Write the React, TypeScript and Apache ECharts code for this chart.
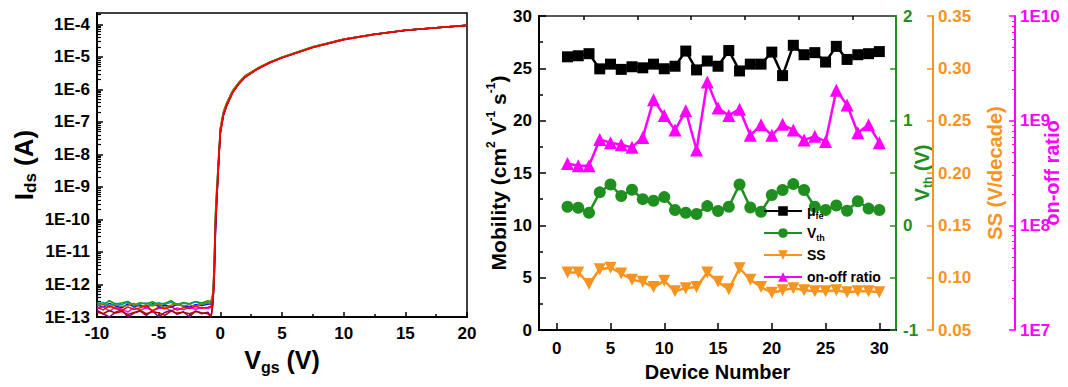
import React, { useEffect, useRef } from "react";
import * as echarts from "echarts";

const FONT = "'Liberation Sans', Arial, Helvetica, sans-serif";

// ---------- Left panel: transfer curves (log10 of Ids in A) ----------
const VGS = [
  -10, -9.5, -9, -8.5, -8, -7.5, -7, -6.5, -6, -5.5, -5, -4.5, -4, -3.5, -3, -2.5, -2, -1.5, -1,
  -0.75, -0.6, -0.5, -0.4, -0.3, -0.2, -0.1, 0, 0.25, 0.5, 1, 1.5, 2, 3, 4, 5, 7.5, 10, 12.5, 15, 17.5, 20,
];

const IDS_LOG_C1 = [
  -12.62, -12.7, -12.58, -12.66, -12.72, -12.6, -12.68, -12.64, -12.71, -12.59, -12.67, -12.63, -12.7, -12.61, -12.66, -12.69, -12.62, -12.65, -12.6,
  -12.6, -12.5, -11.9, -10.5, -9.5, -8.75, -8.0, -7.35, -6.8, -6.52, -6.1, -5.83, -5.62, -5.37, -5.18, -5.02, -4.7, -4.46, -4.3, -4.18, -4.1, -4.03,
];
const IDS_LOG_C2 = [
  -12.55, -12.63, -12.5, -12.6, -12.57, -12.52, -12.64, -12.56, -12.6, -12.53, -12.61, -12.58, -12.5, -12.62, -12.55, -12.59, -12.52, -12.57, -12.5,
  -12.55, -12.3, -11.4, -9.9, -9.15, -8.5, -7.85, -7.2, -6.7, -6.43, -6.04, -5.79, -5.59, -5.35, -5.16, -5.01, -4.69, -4.46, -4.3, -4.18, -4.1, -4.03,
];
const IDS_LOG_C3 = [
  -12.75, -12.68, -12.82, -12.7, -12.76, -12.85, -12.7, -12.79, -12.72, -12.8, -12.74, -12.69, -12.83, -12.72, -12.78, -12.7, -12.76, -12.71, -12.74,
  -12.7, -12.35, -11.55, -10.05, -9.25, -8.55, -7.88, -7.24, -6.72, -6.45, -6.06, -5.8, -5.6, -5.36, -5.17, -5.02, -4.7, -4.46, -4.3, -4.18, -4.1, -4.03,
];
const IDS_LOG_C4 = [
  -12.6, -12.55, -12.65, -12.58, -12.62, -12.54, -12.66, -12.59, -12.57, -12.63, -12.56, -12.61, -12.55, -12.64, -12.58, -12.6, -12.53, -12.62, -12.57,
  -12.58, -12.38, -11.5, -10.0, -9.25, -8.55, -7.9, -7.27, -6.74, -6.47, -6.07, -5.81, -5.61, -5.36, -5.17, -5.02, -4.7, -4.46, -4.3, -4.18, -4.1, -4.03,
];
const IDS_LOG_C5 = [
  -12.8, -12.9, -13.0, -12.85, -12.78, -13.0, -12.88, -12.82, -12.95, -12.8, -13.0, -12.86, -12.79, -12.92, -12.84, -13.0, -12.81, -12.9, -12.85,
  -13.0, -12.55, -11.8, -10.3, -9.45, -8.7, -7.95, -7.3, -6.76, -6.48, -6.08, -5.81, -5.61, -5.37, -5.17, -5.02, -4.7, -4.46, -4.3, -4.18, -4.1, -4.03,
];
const IDS_LOG_C6 = [
  -12.65, -12.6, -12.7, -12.62, -12.68, -12.64, -12.58, -12.69, -12.63, -12.66, -12.6, -12.71, -12.64, -12.59, -12.67, -12.62, -12.68, -12.6, -12.55,
  -12.5, -12.25, -11.35, -9.85, -9.1, -8.45, -7.8, -7.18, -6.68, -6.42, -6.03, -5.78, -5.58, -5.35, -5.16, -5.01, -4.69, -4.46, -4.3, -4.18, -4.1, -4.03,
];
const IDS_LOG_C7 = [
  -12.85, -12.9, -12.8, -12.88, -12.83, -12.92, -12.86, -12.8, -12.9, -12.84, -12.87, -12.95, -12.82, -12.88, -12.85, -12.9, -12.83, -12.87, -12.9,
  -13.0, -12.6, -11.9, -10.4, -9.5, -8.75, -8.02, -7.35, -6.8, -6.52, -6.1, -5.83, -5.63, -5.38, -5.18, -5.03, -4.71, -4.47, -4.31, -4.19, -4.1, -4.04,
];
const IDS_LOG_C8 = [
  -12.7, -12.78, -12.66, -12.74, -12.8, -12.69, -12.77, -12.72, -12.65, -12.81, -12.7, -12.75, -12.68, -12.79, -12.71, -12.74, -12.67, -12.73, -12.7,
  -12.68, -12.45, -11.7, -10.2, -9.4, -8.7, -7.98, -7.32, -6.78, -6.5, -6.09, -5.82, -5.62, -5.37, -5.18, -5.03, -4.71, -4.47, -4.31, -4.18, -4.1, -4.03,
];
const CURVES = [IDS_LOG_C1, IDS_LOG_C2, IDS_LOG_C3, IDS_LOG_C4, IDS_LOG_C5, IDS_LOG_C6, IDS_LOG_C7, IDS_LOG_C8];
const CURVE_COLORS = ["#0000ff", "#00a000", "#ff00ff", "#009999", "#800080", "#808000", "#b00000", "#ff0000"];
const LEFT_Y_TICKS = [-13, -12, -11, -10, -9, -8, -7, -6, -5, -4];

// ---------- Right panel: device statistics ----------
const DEVICES = [
  1, 2, 3, 4, 5, 6, 7, 8, 9, 10, 11, 12, 13, 14, 15, 16, 17, 18, 19, 20, 21, 22, 23, 24, 25, 26, 27, 28, 29, 30,
];
const MOBILITY = [
  26.1, 26.2, 26.4, 24.95, 25.4, 24.9, 25.15, 25.05, 25.4, 24.96, 25.2, 26.65, 24.85, 25.7, 25.2,
  26.7, 24.75, 25.4, 25.4, 26.55, 24.3, 27.2, 26.3, 26.5, 25.6, 27.1, 25.85, 26.3, 26.4, 26.6,
];
const VTH = [
  0.178, 0.168, 0.12, 0.315, 0.39, 0.28, 0.34, 0.25, 0.235, 0.27, 0.146, 0.12, 0.108, 0.184, 0.137,
  0.178, 0.39, 0.17, 0.13, 0.29, 0.337, 0.394, 0.337, 0.178, 0.146, 0.19, 0.14, 0.23, 0.16, 0.146,
];
const SS = [
  0.105, 0.105, 0.094, 0.108, 0.1095, 0.104, 0.098, 0.096, 0.091, 0.097, 0.087, 0.09, 0.091, 0.105, 0.096,
  0.089, 0.109, 0.098, 0.091, 0.0856, 0.088, 0.09, 0.088, 0.087, 0.087, 0.088, 0.086, 0.087, 0.087, 0.086,
];
const ONOFF_LOG10 = [
  8.59, 8.57, 8.57, 8.82, 8.79, 8.77, 8.745, 8.84, 9.2, 9.05, 8.91, 9.095, 8.72, 9.37, 9.12,
  9.05, 9.11, 8.86, 8.96, 8.86, 8.965, 8.91, 8.815, 8.85, 8.8, 9.29, 9.15, 8.885, 8.96, 8.79,
];
const RIGHT_X_TICKS = [0, 5, 10, 15, 20, 25, 30];
const RIGHT_X_MINOR = [2.5, 7.5, 12.5, 17.5, 22.5, 27.5];

const GREEN = "#1f8f1f";
const ORANGE = "#f7931e";
const MAGENTA = "#ff00ff";

const LEGEND_LABELS: Record<string, string> = {
  "μfe": "μ{sub|fe}",
  Vth: "V{sub|th}",
  SS: "SS",
  "on-off ratio": "on-off ratio",
};

function logMinor(from: number, to: number, max: number): number[] {
  const out: number[] = [];
  for (let n = from; n <= to; n++) {
    for (let k = 2; k <= 9; k++) {
      const v = n + Math.log10(k);
      if (v < max) out.push(v);
    }
  }
  return out;
}

export default function App() {
  const ref = useRef<HTMLDivElement>(null);

  useEffect(() => {
    if (!ref.current) return;
    const chart = echarts.init(ref.current, null, { renderer: "svg" });

    const label = (color: string, extra: any = {}) => ({
      color,
      fontSize: 17,
      fontWeight: "bold",
      fontFamily: FONT,
      ...extra,
    });
    const line = (color: string, width = 2) => ({ show: true, onZero: false, lineStyle: { color, width } });
    const noLine = { show: false, onZero: false };

    const leftYMax = -3.65;

    const option: any = {
      animation: false,
      backgroundColor: "#ffffff",
      textStyle: { fontFamily: FONT },
      grid: [
        { left: 97, top: 13, width: 370, height: 304, show: true, borderColor: "#000", borderWidth: 1.5, containLabel: false, outerBoundsMode: "none" },
        { left: 539, top: 16, width: 357, height: 314, show: true, borderColor: "#222", borderWidth: 1.5, containLabel: false, outerBoundsMode: "none" },
      ],
      legend: {
        data: ["μfe", "Vth", "SS", "on-off ratio"],
        orient: "vertical",
        left: 763,
        top: 202,
        padding: 0,
        itemGap: 4,
        itemWidth: 38,
        itemHeight: 12,
        formatter: (n: string) => LEGEND_LABELS[n] ?? n,
        textStyle: {
          fontSize: 14,
          fontWeight: "bold",
          color: "#000",
          fontFamily: FONT,
          lineHeight: 18,
          rich: { sub: { fontSize: 9, fontWeight: "bold", verticalAlign: "bottom", lineHeight: 9, color: "#000" } },
        },
      },
      xAxis: [
        {
          gridIndex: 0,
          type: "value",
          min: -10,
          max: 20,
          interval: 5,
          axisLine: line("#000", 2),
          axisTick: { inside: true, length: 5, lineStyle: { color: "#000", width: 1.5 } },
          minorTick: { show: true, splitNumber: 2, length: 3, lineStyle: { color: "#000", width: 1.5 } },
          axisLabel: label("#000", { margin: 8 }),
          splitLine: { show: false },
          minorSplitLine: { show: false },
          name: "V{sub|gs} (V)",
          nameLocation: "middle",
          nameGap: 28,
          nameMoveOverlap: false,
          nameTextStyle: {
            fontSize: 25,
            fontWeight: "bold",
            color: "#000",
            fontFamily: FONT,
            lineHeight: 30,
            rich: { sub: { fontSize: 16, fontWeight: "bold", verticalAlign: "bottom", lineHeight: 14, color: "#000" } },
          },
        },
        {
          gridIndex: 1,
          type: "value",
          min: -1.65,
          max: 31.55,
          axisLine: line("#000", 2),
          axisTick: { inside: true, length: 7, customValues: RIGHT_X_TICKS, lineStyle: { color: "#000", width: 1.5 } },
          axisLabel: label("#000", { margin: 10, customValues: RIGHT_X_TICKS }),
          splitLine: { show: false },
          name: "Device Number",
          nameLocation: "middle",
          nameGap: 32,
          nameMoveOverlap: false,
          nameTextStyle: { fontSize: 20, fontWeight: "bold", color: "#000", fontFamily: FONT },
        },
        {
          gridIndex: 1,
          type: "value",
          min: -1.65,
          max: 31.55,
          axisLine: noLine,
          axisTick: { inside: true, length: 4, customValues: RIGHT_X_MINOR, lineStyle: { color: "#000", width: 1.5 } },
          axisLabel: { show: false },
          splitLine: { show: false },
        },
      ],
      yAxis: [
        {
          gridIndex: 0,
          type: "value",
          position: "left",
          min: -13,
          max: leftYMax,
          axisLine: line("#000", 2),
          axisTick: { inside: true, length: 6, customValues: LEFT_Y_TICKS, lineStyle: { color: "#000", width: 1.5 } },
          axisLabel: label("#000", { margin: 7, customValues: LEFT_Y_TICKS, formatter: (v: number) => "1E" + v }),
          splitLine: { show: false },
          name: "I{sub|ds} (A)",
          nameLocation: "middle",
          nameRotate: 90,
          nameGap: 58,
          nameMoveOverlap: false,
          nameTextStyle: {
            fontSize: 26,
            fontWeight: "bold",
            color: "#000",
            fontFamily: FONT,
            lineHeight: 30,
            rich: { sub: { fontSize: 17, fontWeight: "bold", verticalAlign: "bottom", lineHeight: 14, color: "#000" } },
          },
        },
        {
          gridIndex: 0,
          type: "value",
          position: "left",
          min: -13,
          max: leftYMax,
          axisLine: noLine,
          axisTick: { inside: true, length: 4, customValues: logMinor(-13, -4, leftYMax), lineStyle: { color: "#000", width: 1.2 } },
          axisLabel: { show: false },
          splitLine: { show: false },
        },
        {
          gridIndex: 1,
          type: "value",
          position: "left",
          min: 0,
          max: 30,
          interval: 5,
          axisLine: line("#000", 2),
          axisTick: { inside: true, length: 7, lineStyle: { color: "#000", width: 1.5 } },
          minorTick: { show: true, splitNumber: 2, length: 4, lineStyle: { color: "#000", width: 1.5 } },
          axisLabel: label("#000", { margin: 7 }),
          splitLine: { show: false },
          minorSplitLine: { show: false },
          name: "Mobility (cm{sup|2} V{sup|-1} s{sup|-1})",
          nameLocation: "middle",
          nameRotate: 90,
          nameGap: 28,
          nameMoveOverlap: false,
          nameTextStyle: {
            fontSize: 21,
            fontWeight: "bold",
            color: "#000",
            fontFamily: FONT,
            lineHeight: 26,
            rich: { sup: { fontSize: 12, fontWeight: "bold", verticalAlign: "top", lineHeight: 12, color: "#000" } },
          },
        },
        {
          gridIndex: 1,
          type: "value",
          position: "right",
          offset: 0,
          min: -1,
          max: 2,
          interval: 0.5,
          axisLine: line(GREEN, 2),
          axisTick: { inside: true, length: 6, lineStyle: { color: GREEN, width: 1.5 } },
          axisLabel: label(GREEN, { margin: 7, formatter: (v: number) => (Number.isInteger(v) ? String(v) : "") }),
          splitLine: { show: false },
          name: "V{sub|th} (V)",
          nameLocation: "middle",
          nameRotate: 90,
          nameGap: 14,
          nameMoveOverlap: false,
          nameTextStyle: {
            fontSize: 20,
            fontWeight: "bold",
            color: GREEN,
            fontFamily: FONT,
            lineHeight: 24,
            rich: { sub: { fontSize: 12, fontWeight: "bold", verticalAlign: "bottom", lineHeight: 10, color: GREEN } },
          },
        },
        {
          gridIndex: 1,
          type: "value",
          position: "right",
          offset: 37,
          min: 0.05,
          max: 0.35,
          interval: 0.05,
          axisLine: line(ORANGE, 2),
          axisTick: { inside: true, length: 6, lineStyle: { color: ORANGE, width: 1.5 } },
          axisLabel: label(ORANGE, { margin: 5, formatter: (v: number) => v.toFixed(2) }),
          splitLine: { show: false },
          name: "SS (V/decade)",
          nameLocation: "middle",
          nameRotate: 90,
          nameGap: 50,
          nameMoveOverlap: false,
          nameTextStyle: { fontSize: 20, fontWeight: "bold", color: ORANGE, fontFamily: FONT, lineHeight: 24 },
        },
        {
          gridIndex: 1,
          type: "value",
          position: "right",
          offset: 119,
          min: 7,
          max: 10,
          interval: 1,
          axisLine: line(MAGENTA, 2),
          axisTick: { inside: true, length: 6, lineStyle: { color: MAGENTA, width: 1.5 } },
          axisLabel: label(MAGENTA, { margin: 5, formatter: (v: number) => "1E" + v }),
          splitLine: { show: false },
          name: "on-off ratio",
          nameLocation: "middle",
          nameRotate: 90,
          nameGap: 25,
          nameMoveOverlap: false,
          nameTextStyle: { fontSize: 20, fontWeight: "bold", color: MAGENTA, fontFamily: FONT, lineHeight: 24 },
        },
        {
          gridIndex: 1,
          type: "value",
          position: "right",
          offset: 119,
          min: 7,
          max: 10,
          axisLine: noLine,
          axisTick: { inside: true, length: 3, customValues: logMinor(7, 9, 10), lineStyle: { color: MAGENTA, width: 1 } },
          axisLabel: { show: false },
          splitLine: { show: false },
        },
      ],
      series: [
        ...CURVES.map((c, idx) => ({
          name: "curve" + (idx + 1),
          type: "line",
          xAxisIndex: 0,
          yAxisIndex: 0,
          showSymbol: false,
          symbol: "none",
          silent: true,
          clip: true,
          lineStyle: { color: CURVE_COLORS[idx], width: 1.5 },
          data: VGS.map((v, i) => [v, c[i]]),
        })),
        {
          name: "μfe",
          type: "line",
          xAxisIndex: 1,
          yAxisIndex: 2,
          symbol: "rect",
          symbolSize: 11,
          itemStyle: { color: "#000" },
          lineStyle: { color: "#000", width: 2.5 },
          data: DEVICES.map((d, i) => [d, MOBILITY[i]]),
        },
        {
          name: "Vth",
          type: "line",
          xAxisIndex: 1,
          yAxisIndex: 3,
          symbol: "circle",
          symbolSize: 12,
          itemStyle: { color: GREEN },
          lineStyle: { color: GREEN, width: 2.5 },
          data: DEVICES.map((d, i) => [d, VTH[i]]),
        },
        {
          name: "SS",
          type: "line",
          xAxisIndex: 1,
          yAxisIndex: 4,
          symbol: "triangle",
          symbolRotate: 180,
          symbolSize: 12,
          itemStyle: { color: ORANGE },
          lineStyle: { color: ORANGE, width: 2.5 },
          data: DEVICES.map((d, i) => [d, SS[i]]),
        },
        {
          name: "on-off ratio",
          type: "line",
          xAxisIndex: 1,
          yAxisIndex: 5,
          symbol: "triangle",
          symbolSize: 13,
          itemStyle: { color: MAGENTA },
          lineStyle: { color: MAGENTA, width: 2.5 },
          data: DEVICES.map((d, i) => [d, ONOFF_LOG10[i]]),
        },
      ],
    };

    chart.setOption(option);
    return () => chart.dispose();
  }, []);

  return (
    <div
      ref={ref}
      style={{ position: "fixed", left: 0, top: 0, width: 1068, height: 387, background: "#fff" }}
    />
  );
}
